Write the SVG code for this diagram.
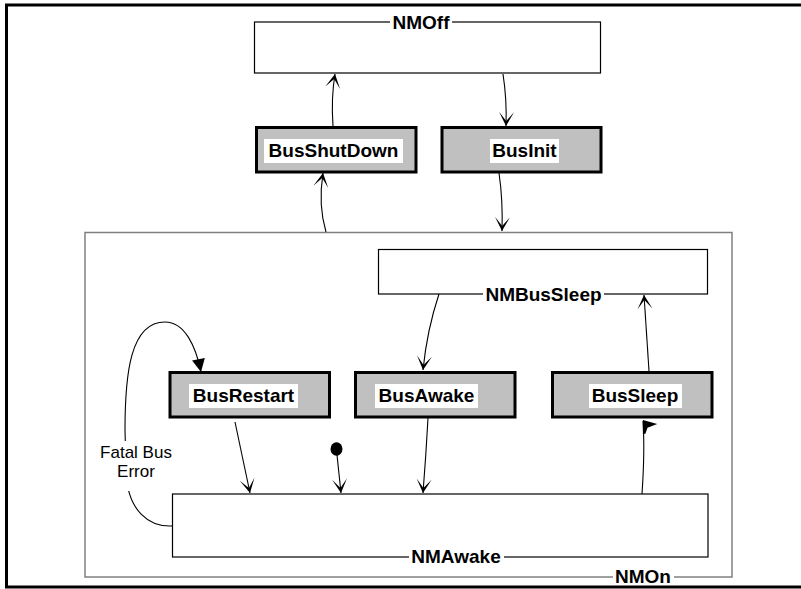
<svg xmlns="http://www.w3.org/2000/svg" width="801" height="589" viewBox="0 0 801 589">
<style>
.frame{fill:none;stroke:#000;stroke-width:3}
.comp{fill:#fff;stroke:#808080;stroke-width:1.5}
.state{fill:#fff;stroke:#000;stroke-width:1.2}
.act{fill:#c0c0c0;stroke:#000;stroke-width:3}
.bg{fill:#fff;stroke:none}
.lbl{font-family:"Liberation Sans",Arial,sans-serif;font-weight:bold;font-size:19px;fill:#000;text-anchor:middle}
.note{font-family:"Liberation Sans",Arial,sans-serif;font-size:17px;fill:#000;text-anchor:middle}
.c{fill:none;stroke:#000;stroke-width:1.1}
.arr{marker-end:url(#a)}
</style>
<defs>
<marker id="a" markerUnits="userSpaceOnUse" markerWidth="20" markerHeight="20" viewBox="-16 -10 20 20" refX="0" refY="0" orient="auto" overflow="visible">
<path d="M0,0 L-14,-7.5 L-5,0 L-14,7.5 z" fill="#000"/>
</marker>
<marker id="t" markerUnits="userSpaceOnUse" markerWidth="20" markerHeight="20" viewBox="-16 -10 20 20" refX="0" refY="0" orient="auto" overflow="visible">
<path d="M0,0 L-13,-6.5 L-13,6.5 z" fill="#000"/>
</marker>
<marker id="h" markerUnits="userSpaceOnUse" markerWidth="20" markerHeight="32" viewBox="-16 -16 20 32" refX="0" refY="0" orient="auto" overflow="visible">
<path d="M1,0 L-4,14 L-7,4 L-13,1.5 L-13,-1 z" fill="#000"/>
</marker>
</defs>

<path class="frame" d="M801,5 H6.5 V587 H801"/>

<g id="NMOn">
<rect class="comp" x="85" y="232.5" width="647" height="344.5"/>
<rect class="bg" x="613" y="569" width="61" height="16"/>
<text class="lbl" x="643" y="583">NMOn</text>
</g>

<g id="NMOff">
<rect class="state" x="254.5" y="22" width="346" height="51"/>
<rect class="bg" x="390" y="13" width="62" height="17"/>
<text class="lbl" x="421" y="28.5">NMOff</text>
</g>

<g id="NMBusSleep">
<rect class="state" x="378.5" y="249.5" width="329" height="44.5"/>
<rect class="bg" x="483" y="286" width="121" height="17"/>
<text class="lbl" x="543.5" y="300.5">NMBusSleep</text>
</g>

<g id="NMAwake">
<rect class="state" x="172.5" y="494" width="535.5" height="63"/>
<rect class="bg" x="409" y="548" width="95" height="17"/>
<text class="lbl" x="456" y="563">NMAwake</text>
</g>

<g id="BusShutDown">
<rect class="act" x="256.5" y="127.5" width="159.5" height="44.5"/>
<rect class="bg" x="264" y="139" width="139" height="24"/>
<text class="lbl" x="333.5" y="157">BusShutDown</text>
</g>

<g id="BusInit">
<rect class="act" x="442" y="127.5" width="159" height="44.5"/>
<rect class="bg" x="490" y="139" width="69" height="24"/>
<text class="lbl" x="524.5" y="157">BusInit</text>
</g>

<g id="BusRestart">
<rect class="act" x="170" y="372.5" width="159.5" height="44.5"/>
<rect class="bg" x="189" y="384" width="109" height="24"/>
<text class="lbl" x="243.5" y="402">BusRestart</text>
</g>

<g id="BusAwake">
<rect class="act" x="355.5" y="372.5" width="159.5" height="44.5"/>
<rect class="bg" x="375" y="384" width="103" height="24"/>
<text class="lbl" x="426.5" y="402">BusAwake</text>
</g>

<g id="BusSleep">
<rect class="act" x="552.5" y="372.5" width="159.5" height="44.5"/>
<rect class="bg" x="589" y="384" width="93" height="24"/>
<text class="lbl" x="635" y="402">BusSleep</text>
</g>

<g id="connectors">
<path class="c arr" d="M326,232 Q318,205 323,173"/>
<path class="c arr" d="M333,126 Q331,98 335,74"/>
<path class="c arr" d="M503,74 Q507,100 506,126"/>
<path class="c arr" d="M499,173 Q503,200 502,231"/>
<path class="c arr" d="M439,294 Q427,330 423,370"/>
<path class="c arr" d="M649,371 L644,295"/>
<path class="c" marker-end="url(#h)" d="M642,494 Q645,450 643,421"/>
<path class="c arr" d="M235,422 L250,493"/>
<path class="c arr" d="M428,418 Q426,455 423,493"/>
<ellipse cx="336.5" cy="449" rx="6" ry="6.8" fill="#000"/>
<path class="c arr" d="M337,455 L341,493"/>
<path class="c" marker-end="url(#t)" d="M172,526 C150,527 127,512 126,470 L125,430 C125,375 130,322 165,322 C185,322 196,347 201,372"/>
<rect class="bg" x="98" y="441" width="76" height="50"/>
<text class="note" x="136" y="457.5">Fatal Bus</text>
<text class="note" x="136" y="477">Error</text>
</g>
</svg>
